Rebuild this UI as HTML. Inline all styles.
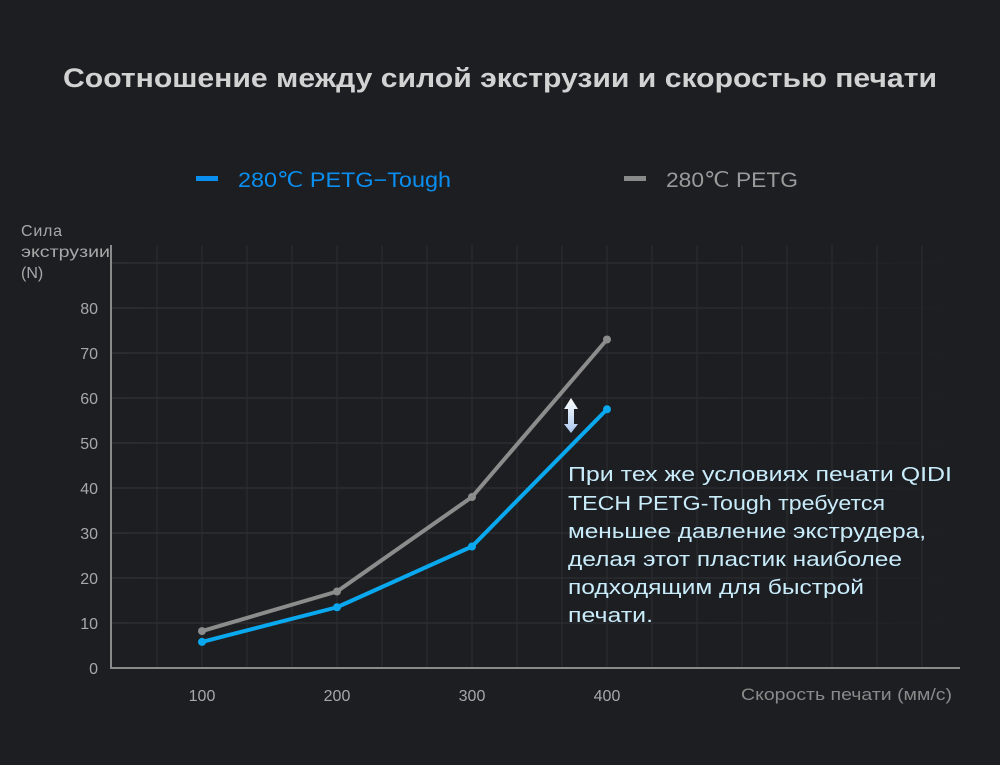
<!DOCTYPE html>
<html><head><meta charset="utf-8"><style>
body{margin:0;background:#1d1e22;width:1000px;height:760px;overflow:hidden;font-family:"Liberation Sans",sans-serif}
</style></head><body>
<svg width="1000" height="760" id="svg">
<defs>
<linearGradient id="fadeR" gradientUnits="userSpaceOnUse" x1="112" x2="960" y1="0" y2="0"><stop offset="0" stop-color="#36373c"/><stop offset="0.7" stop-color="#303136"/><stop offset="1" stop-color="#1d1e22"/></linearGradient>
<linearGradient id="arrowG" x1="0" x2="0" y1="0" y2="1"><stop offset="0" stop-color="#ffffff"/><stop offset="1" stop-color="#a9c7ee"/></linearGradient>
</defs>
<text x="63" y="87" textLength="874" lengthAdjust="spacingAndGlyphs" font-size="27" font-weight="bold" fill="#d2d2d2">Соотношение между силой экструзии и скоростью печати</text>
<g><rect x="196" y="176" width="22" height="5" fill="#0a8ff0"/><text x="238" y="187" textLength="213" lengthAdjust="spacingAndGlyphs" font-size="21" fill="#0a8ff0">280℃ PETG−Tough</text></g>
<g><rect x="624" y="176" width="22" height="5" fill="#8a8a8a"/><text x="666" y="187" textLength="132" lengthAdjust="spacingAndGlyphs" font-size="21" fill="#9a9a9a">280℃ PETG</text></g>
<g font-size="16" fill="#a8a8a8"><text x="21" y="236" textLength="41">Сила</text><text x="21" y="257" textLength="89" lengthAdjust="spacingAndGlyphs">экструзии</text><text x="21" y="278">(N)</text></g>
<text x="741" y="700" textLength="211" lengthAdjust="spacingAndGlyphs" font-size="17" fill="#8a8a8a">Скорость печати (мм/с)</text>
<g id="grid"></g>
<g id="axes"></g>
<g id="series"></g>
<g><polygon points="571,398 578,409 574,409 574,424 578,424 571,433 564,424 568,424 568,409 564,409" fill="url(#arrowG)"/></g>
<g font-size="20" fill="#c9ecfb" lengthAdjust="spacingAndGlyphs"><text x="568" y="481" textLength="384" lengthAdjust="spacingAndGlyphs">При тех же условиях печати QIDI</text><text x="568" y="510" textLength="317" lengthAdjust="spacingAndGlyphs">TECH PETG-Tough требуется</text><text x="568" y="538" textLength="358" lengthAdjust="spacingAndGlyphs">меньшее давление экструдера,</text><text x="568" y="566" textLength="334" lengthAdjust="spacingAndGlyphs">делая этот пластик наиболее</text><text x="568" y="594" textLength="296" lengthAdjust="spacingAndGlyphs">подходящим для быстрой</text><text x="568" y="622" textLength="85" lengthAdjust="spacingAndGlyphs">печати.</text></g>
</svg>
<script>
const categories=[100,200,300,400];
const petgTough=[5.8,13.5,27,57.5];
const petg=[8.2,17,38,73];
const yTicks=[0,10,20,30,40,50,60,70,80];
const NS="http://www.w3.org/2000/svg";
const X=v=>202+(v-100)*1.35;
const Y=v=>668-v*4.5;
function mk(t,a,p){const e=document.createElementNS(NS,t);for(const k in a)e.setAttribute(k,a[k]);p.appendChild(e);return e;}
const grid=document.getElementById('grid');
for(let i=1;i<=9;i++){const y=Y(i*10);const l=mk('line',{x1:112,x2:960,y1:y,y2:y,stroke:'url(#fadeR)','stroke-width':1},grid);

}
for(let x=157;x<=960;x+=45){const l=mk('line',{x1:x,x2:x,y1:245,y2:668,stroke:'#2c2d32','stroke-width':1},grid);

}
const axes=document.getElementById('axes');
const ya=mk('line',{x1:111,x2:111,y1:245,y2:669,stroke:'#8a8a8a','stroke-width':2},axes);


const xa=mk('line',{x1:110,x2:960,y1:668,y2:668,stroke:'#8a8a8a','stroke-width':2},axes);


yTicks.forEach(v=>{const t=mk('text',{x:98,y:Y(v)+6,'text-anchor':'end','font-size':16,fill:'#a8a8a8'},axes);t.textContent=v;

});
categories.forEach(c=>{const t=mk('text',{x:X(c),y:701,'text-anchor':'middle','font-size':16,fill:'#a8a8a8'},axes);t.textContent=c;

});
const series=document.getElementById('series');
function draw(vals,color,name){const g=mk('g',{},series);


mk('polyline',{points:vals.map((v,i)=>X(categories[i])+','+Y(v)).join(' '),fill:'none',stroke:color,'stroke-width':4,'stroke-linejoin':'round'},g);
vals.forEach((v,i)=>{const c=mk('circle',{cx:X(categories[i]),cy:Y(v),r:4,fill:color},g);

});}
draw(petg,'#8c8c8c','series-petg');
draw(petgTough,'#0aa8ee','series-petg-tough');
</script>
</body></html>
